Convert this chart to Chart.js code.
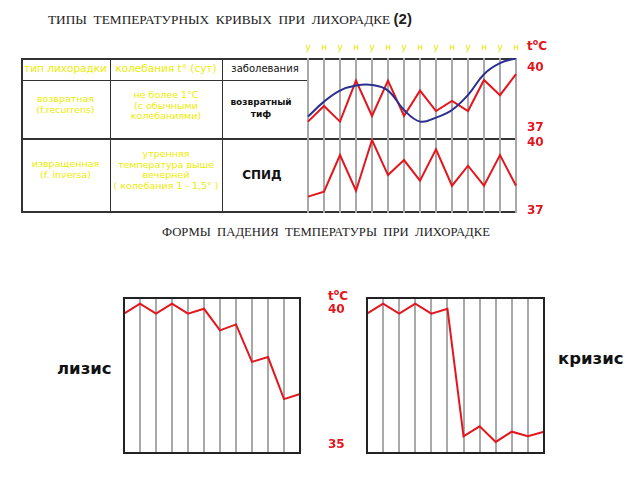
<!DOCTYPE html>
<html>
<head>
<meta charset="utf-8">
<script src="https://cdn.jsdelivr.net/npm/chart.js@4"></script>
<style>
  body { margin: 0; width: 640px; height: 480px; background: #fff; position: relative; overflow: hidden; font-family: "DejaVu Sans", sans-serif; }
  .abs { position: absolute; }
  canvas { position: absolute; }
  .title { font-family: "Liberation Serif", serif; color: #222; white-space: pre; }
  .yel { color: #eded00; font-size: 9.5px; text-align: center; line-height: 10.5px; }
  .red { color: #e3161e; font-weight: bold; font-size: 12px; }
  .cell { position: absolute; border-color: #333; border-style: solid; border-width: 0; }
</style>
</head>
<body>
<div class="abs title" style="left:48px; top:10px; font-size:13.3px;">ТИПЫ  ТЕМПЕРАТУРНЫХ  КРИВЫХ  ПРИ  ЛИХОРАДКЕ <b style="font-family:'Liberation Sans',sans-serif;font-size:15px;">(2)</b></div>
<div class="abs title" style="left:162px; top:225px; font-size:12.7px;">ФОРМЫ  ПАДЕНИЯ  ТЕМПЕРАТУРЫ  ПРИ  ЛИХОРАДКЕ</div>

<!-- table grid -->
<div class="cell" style="left:21px; top:58px; width:495px; height:155px; border-width:2px 0 2px 2px; box-sizing:border-box;"></div>
<div class="cell" style="left:21px; top:80px; width:287px; border-top-width:1px;"></div>
<div class="cell" style="left:21px; top:138px; width:495px; border-top-width:2px;"></div>
<div class="cell" style="left:110px; top:58px; height:155px; border-left-width:1px;"></div>
<div class="cell" style="left:222px; top:58px; height:155px; border-left-width:1px;"></div>
<div class="cell" style="left:307px; top:58px; height:155px; border-left-width:2px;"></div>

<div class="abs yel" style="left:21px; top:63px; width:89px; font-size:10.5px;">тип лихорадки</div>
<div class="abs yel" style="left:110px; top:63px; width:112px; font-size:10.5px;">колебания t° (сут)</div>
<div class="abs" style="left:222px; top:63px; width:86px; text-align:center; font-size:10px; color:#111;">заболевания</div>

<div class="abs yel" style="left:21px; top:94px; width:89px;">возвратная<br>(f.recurrens)</div>
<div class="abs yel" style="left:110px; top:90px; width:112px;">не более 1°С<br>(с обычными<br>колебаниями)</div>
<div class="abs" style="left:222px; top:96px; width:78px; text-align:center; font-size:9px; line-height:12px; color:#111; font-weight:bold;">возвратный<br>тиф</div>

<div class="abs yel" style="left:21px; top:159px; width:89px;">извращенная<br>(f. inversa)</div>
<div class="abs yel" style="left:110px; top:149px; width:112px;">утренняя<br>температура выше<br>вечерней<br>( колебания 1 - 1,5° )</div>
<div class="abs" style="left:222px; top:168px; width:80px; text-align:center; font-size:12px; color:#111; font-weight:bold;">СПИД</div>

<div class="abs red" style="left:527px; top:38px;">t<sup style="font-size:8px;">o</sup>C</div>
<div class="abs red" style="left:328px; top:288px;">t<sup style="font-size:8px;">o</sup>C</div>

<div class="abs" style="left:57px; top:359px; font-size:16.5px; font-weight:bold; color:#111;">лизис</div>
<div class="abs" style="left:558px; top:349px; font-size:16.5px; font-weight:bold; color:#111;">кризис</div>

<canvas id="c1" width="260" height="102" style="left:300px; top:38px;"></canvas>
<canvas id="c2" width="260" height="80" style="left:300px; top:136px;"></canvas>
<canvas id="c3" width="240" height="170" style="left:116px; top:290px;"></canvas>
<canvas id="c4" width="200" height="170" style="left:359px; top:290px;"></canvas>

<script>
// day labels: у = утро, н = вечер (ночь)
const dayLabels = ['у', 'н', 'у', 'н', 'у', 'н', 'у', 'н', 'у', 'н', 'у', 'н', 'у', 'н'];
const fallLabels = ['1', '2', '3', '4', '5', '6', '7', '8', '9', '10', '11', '12'];

// возвратный тиф
const relapsingRed = [37.32, 38.1, 37.32, 39.37, 37.6, 39.37, 37.6, 38.87, 37.85, 38.35, 37.85, 39.4, 38.64, 39.69];
const relapsingBlue = [37.57, 38.32, 38.87, 39.12, 39.15, 38.87, 37.9, 37.32, 37.52, 37.9, 38.65, 39.69, 40.24, 40.49];
// СПИД
const aidsRed = [37.62, 37.84, 39.45, 37.88, 40.11, 38.57, 39.23, 38.32, 39.7, 38.1, 38.98, 38.1, 39.45, 38.1];
// лизис / кризис
const lysis = [39.87, 40.24, 39.87, 40.24, 39.87, 40.05, 39.25, 39.47, 38.08, 38.26, 36.7, 36.89];
const crisis = [39.87, 40.24, 39.87, 40.24, 39.87, 40.05, 35.32, 35.69, 35.11, 35.49, 35.32, 35.49];

const topTicks = [37, 40];
const bottomTicks = [35, 40];

Chart.defaults.animation = false;
Chart.defaults.responsive = false;
Chart.defaults.plugins.legend.display = false;
Chart.defaults.plugins.tooltip.enabled = false;

const RED = '#e3161e';
const BLUE = '#2b2f8f';

function gridColor(ctx, n, edge) {
  if (edge && (ctx.index === 0 || ctx.index === n - 1)) return '#222';
  return '#a9a9a9';
}

// axes must not push the chart area in with their label paddings
function noPad(s) {
  s.paddingTop = 0;
  s.paddingBottom = 0;
  s.paddingLeft = 0;
  s.paddingRight = 0;
}

function redAxis(min, max, ticks, pad, width) {
  return {
    position: 'right',
    min: min,
    max: max,
    grid: { display: false, drawTicks: false },
    border: { display: false },
    afterBuildTicks: axis => { axis.ticks = ticks.map(v => ({ value: v })); },
    afterFit: s => { s.width = width; noPad(s); },
    ticks: { padding: pad, color: RED, font: { family: 'DejaVu Sans', size: 12, weight: 'bold' } }
  };
}

function lineSet(data, color, tension) {
  return { data: data, borderColor: color, borderWidth: 2, pointRadius: 0, tension: tension || 0, fill: false };
}

const frame = {
  id: 'frame',
  afterDraw(chart) {
    const a = chart.chartArea;
    const c = chart.ctx;
    c.save();
    c.strokeStyle = '#222';
    c.lineWidth = 2;
    c.strokeRect(a.left, a.top, a.right - a.left, a.bottom - a.top);
    c.restore();
  }
};

new Chart(document.getElementById('c1'), {
  type: 'line',
  data: {
    labels: dayLabels,
    datasets: [lineSet(relapsingBlue, BLUE, 0.4), lineSet(relapsingRed, RED)]
  },
  options: {
    layout: { padding: { left: 8, top: 0, bottom: 2, right: 0 } },
    scales: {
      x: {
        position: 'top',
        offset: false,
        grid: { color: c => gridColor(c, 14, false), lineWidth: 2, drawTicks: false },
        border: { display: false },
        afterFit: s => { s.height = 20; noPad(s); },
        ticks: { padding: 5, color: '#e6e600', maxRotation: 0, autoSkip: false, font: { family: 'DejaVu Sans', size: 9 } }
      },
      y: redAxis(36.5, 40.5, topTicks, 11, 44)
    }
  }
});

new Chart(document.getElementById('c2'), {
  type: 'line',
  data: {
    labels: dayLabels,
    datasets: [lineSet(aidsRed, RED)]
  },
  options: {
    layout: { padding: { left: 8, top: 2, bottom: 3, right: 0 } },
    scales: {
      x: {
        offset: false,
        grid: { color: c => gridColor(c, 14, false), lineWidth: 2, drawTicks: false },
        border: { display: false },
        afterFit: s => { s.height = 0; noPad(s); },
        ticks: { display: false }
      },
      y: redAxis(36.9, 40.2, topTicks, 11, 44)
    }
  }
});

new Chart(document.getElementById('c3'), {
  type: 'line',
  data: {
    labels: fallLabels,
    datasets: [lineSet(lysis, RED)]
  },
  options: {
    layout: { padding: { left: 8, top: 8, bottom: 7, right: 0 } },
    scales: {
      x: {
        offset: false,
        grid: { color: c => gridColor(c, 12, true), lineWidth: 2, drawTicks: false },
        border: { display: false },
        afterFit: s => { s.height = 0; noPad(s); },
        ticks: { display: false }
      },
      y: redAxis(34.7, 40.45, bottomTicks, 28, 56)
    }
  },
  plugins: [frame]
});

new Chart(document.getElementById('c4'), {
  type: 'line',
  data: {
    labels: fallLabels,
    datasets: [lineSet(crisis, RED)]
  },
  options: {
    layout: { padding: { left: 8, top: 8, bottom: 7, right: 15 } },
    scales: {
      x: {
        offset: false,
        grid: { color: c => gridColor(c, 12, true), lineWidth: 2, drawTicks: false },
        border: { display: false },
        afterFit: s => { s.height = 0; noPad(s); },
        ticks: { display: false }
      },
      y: { display: false, min: 34.7, max: 40.45 }
    }
  },
  plugins: [frame]
});
</script>
</body>
</html>
